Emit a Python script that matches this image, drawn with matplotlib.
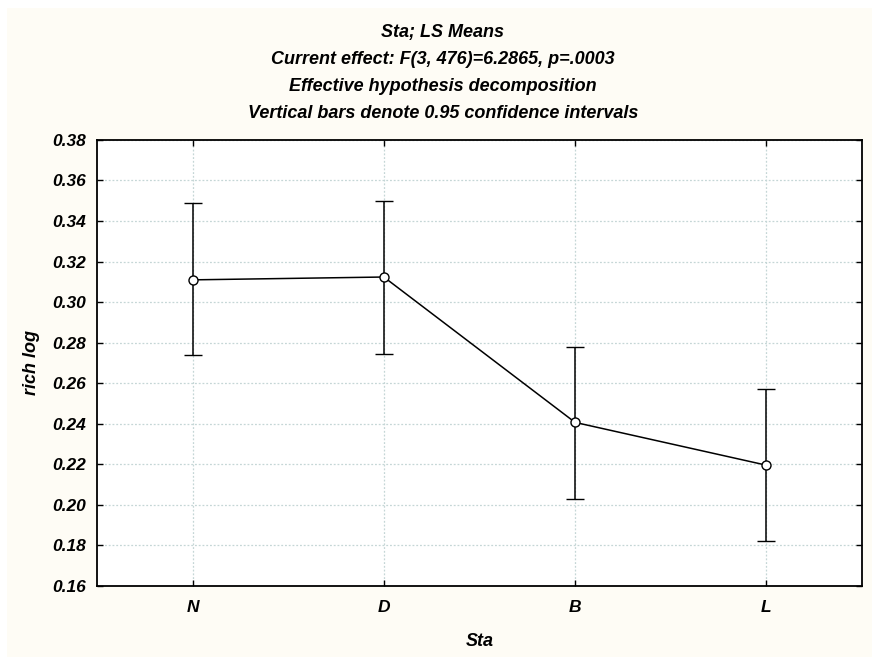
import matplotlib
matplotlib.use("Agg")
import matplotlib.pyplot as plt
from matplotlib.patches import Rectangle

# LS means of rich log by Sta, with 0.95 confidence limits
categories = ["N", "D", "B", "L"]
means = [0.3110, 0.3124, 0.2407, 0.2196]
upper = [0.3490, 0.3497, 0.2780, 0.2572]
lower = [0.2737, 0.2746, 0.2028, 0.1820]
yticks = [0.16, 0.18, 0.20, 0.22, 0.24, 0.26, 0.28, 0.30, 0.32, 0.34, 0.36, 0.38]

title_lines = ["Sta; LS Means",
               "Current effect: F(3, 476)=6.2865, p=.0003",
               "Effective hypothesis decomposition",
               "Vertical bars denote 0.95 confidence intervals"]

font = dict(family="Liberation Sans", weight="bold", style="italic")

fig = plt.figure(figsize=(8.72, 6.57), dpi=100, facecolor="white")
# off-white panel behind the graph, thin white margin top/left
fig.patches.append(Rectangle((7 / 872, 0), 1, 1 - 8 / 657, transform=fig.transFigure,
                             facecolor="#fefcf5", edgecolor="none", zorder=-10))

ax = fig.add_axes([0.1112, 0.108, 0.8773, 0.679])
ax.set_facecolor("white")

x = list(range(len(categories)))
yerr = [[m - lo for m, lo in zip(means, lower)],
        [hi - m for m, hi in zip(means, upper)]]
ax.errorbar(x, means, yerr=yerr, color="black", lw=1.1, elinewidth=1.1,
            capsize=6.5, capthick=1.1, marker="o", markersize=6.5,
            markerfacecolor="white", markeredgecolor="black",
            markeredgewidth=1.0, zorder=3)

ax.set_xlim(-0.5, 3.5)
ax.set_ylim(0.16, 0.38)
ax.set_xticks(x)
ax.set_xticklabels(categories, fontsize=12.5, **font)
ax.set_yticks(yticks)
ax.set_yticklabels(["%.2f" % v for v in yticks], fontsize=12.5, **font)

ax.grid(True, color="#c5d6d6", linestyle=(0, (1.5, 1.5)), linewidth=0.9)
ax.set_axisbelow(True)
ax.tick_params(direction="in", length=4, width=1.0, top=True, right=True)
ax.tick_params(axis="y", pad=8)
ax.tick_params(axis="x", pad=10)
for s in ax.spines.values():
    s.set_linewidth(1.3)
    s.set_color("black")

ax.set_xlabel("Sta", fontsize=13, labelpad=13, **font)
ax.set_ylabel("rich log", fontsize=13, labelpad=9, **font)

for i, line in enumerate(title_lines):
    fig.text(0.508, 1 - (33 + 26.7 * i) / 657, line, ha="center", va="center",
             fontsize=13, **font)

fig.savefig("out.png", dpi=100)
